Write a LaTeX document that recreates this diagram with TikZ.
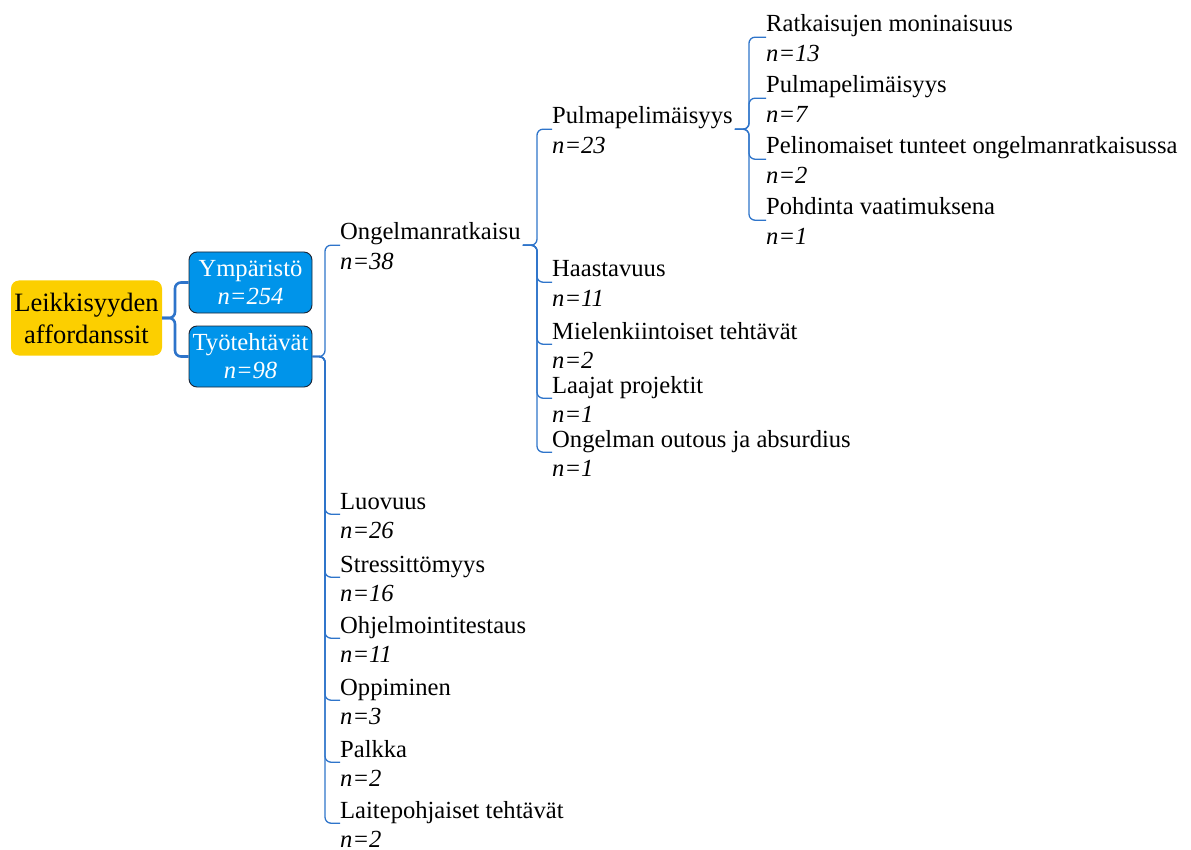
\documentclass[tikz,border=0pt]{standalone}
\usepackage{fontspec}
\setmainfont{LiberationSerif}[
  Extension=.ttf,
  UprightFont=*-Regular,
  ItalicFont=*-Italic,
  BoldFont=*-Bold,
  BoldItalicFont=*-BoldItalic]
\definecolor{rootfill}{RGB}{252,207,0}
\definecolor{boxfill}{RGB}{0,148,234}
\definecolor{boxline}{RGB}{28,36,52}
\definecolor{linkcol}{RGB}{46,116,202}
\begin{document}
\begin{tikzpicture}[x=1pt,y=-1pt,
  every node/.style={font=\fontsize{24.6}{28}\selectfont},
  topic/.style={anchor=base west, inner sep=0pt, text depth=5pt},
  count/.style={anchor=base west, inner sep=0pt, font=\fontsize{24.6}{28}\selectfont\itshape},
  rootbox/.style={fill=rootfill, rounded corners=8pt, minimum width=151pt,
    minimum height=75pt, align=center, inner sep=0pt,
    font=\fontsize{26.5}{32}\selectfont},
  mainbox/.style={fill=boxfill, draw=boxline, line width=0.9pt, rounded corners=8pt,
    minimum width=123pt, minimum height=61pt, align=center, inner sep=0pt,
    text=white},
  link1/.style={draw=linkcol, line width=2.6pt, rounded corners=6pt},
  link/.style={draw=linkcol, line width=1.3pt, rounded corners=6pt},
]
\useasboundingbox (0,0) rectangle (1191,850);

% trunk columns of the brackets
\coordinate (v0) at (175,0);
\coordinate (v1) at (325,0);
\coordinate (v2) at (537,0);
\coordinate (v3) at (749,0);

% central topic and main branches
\node[rootbox] (root) at (86.5,318) {Leikkisyyden\\affordanssit};
\node[mainbox] (ymp) at (250.5,282.5) {Ympäristö\\\textit{n=254}};
\node[mainbox] (tyo) at (250.5,356.5) {Työtehtävät\\\textit{n=98}};

% second level topics
\foreach \id/\b/\t/\n in {
  ong/240/Ongelmanratkaisu/38,
  luo/509/Luovuus/26,
  str/572/Stressittömyys/16,
  ohj/633/Ohjelmointitestaus/11,
  opp/695/Oppiminen/3,
  pal/757/Palkka/2,
  lai/818/Laitepohjaiset tehtävät/2}{
  \node[topic] (\id) at (340,\b) {\t};
  \node[count] (\id-n) at (340,\b+29.5) {n=\n};
}

% third level topics
\foreach \id/\b/\t/\n in {
  pm/124/Pulmapelimäisyys/23,
  haa/277/Haastavuus/11,
  mie/339/Mielenkiintoiset tehtävät/2,
  laa/393/Laajat projektit/1,
  ou/447/Ongelman outous ja absurdius/1}{
  \node[topic] (\id) at (552,\b) {\t};
  \node[count] (\id-n) at (552,\b+29.5) {n=\n};
}

% fourth level topics
\foreach \id/\b/\t/\n in {
  rm/32/Ratkaisujen moninaisuus/13,
  pp/93/Pulmapelimäisyys/7,
  pt/154/Pelinomaiset tunteet ongelmanratkaisussa/2,
  po/215/Pohdinta vaatimuksena/1}{
  \node[topic] (\id) at (766,\b) {\t};
  \node[count] (\id-n) at (766,\b+29.5) {n=\n};
}

% connectors
\foreach \c in {ymp,tyo}
  \draw[link1] (root.east) -- (root.east -| v0) -- (v0 |- \c.west) -- (\c.west);

\foreach \c in {ong,luo,str,ohj,opp,pal,lai}
  \draw[link] (tyo.east) -- (tyo.east -| v1) -- (v1 |- \c.south west) -- (\c.south west);

\coordinate (ongEnd) at ([xshift=2pt]ong.south east);
\foreach \c in {pm,haa,mie,laa,ou}
  \draw[link] (ongEnd) -- (ongEnd -| v2) -- (v2 |- \c.south west) -- (\c.south west);

\coordinate (pmEnd) at ([xshift=2pt]pm.south east);
\foreach \c in {rm,pp,pt,po}
  \draw[link] (pmEnd) -- (pmEnd -| v3) -- (v3 |- \c.south west) -- (\c.south west);
\end{tikzpicture}
\end{document}
